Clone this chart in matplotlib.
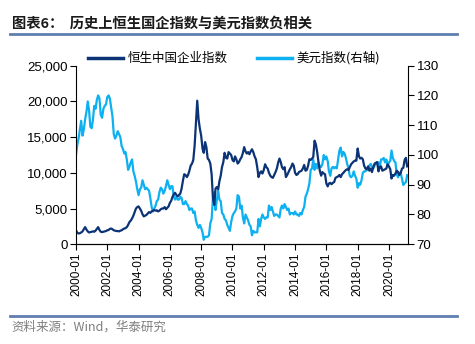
import numpy as np
import pandas as pd
import matplotlib
matplotlib.use("Agg")
import matplotlib.pyplot as plt
import matplotlib.dates as mdates
from matplotlib.ticker import FuncFormatter
from matplotlib.lines import Line2D

plt.rcParams['font.family'] = ['Liberation Sans', 'Noto Sans CJK SC', 'DejaVu Sans']

# monthly closes, 2000-01 .. 2021-03
hscei = [
    1960, 1600, 1500, 1550, 1650, 1800, 2100, 2400, 2050, 1800, 1650, 1700,   # 2000
    1750, 1800, 1750, 1900, 2150, 2400, 2000, 1750, 1700, 1750, 1800, 1850,   # 2001
    1950, 2000, 2150, 2200, 2100, 1950, 1900, 1850, 1850, 1800, 1900, 1950,   # 2002
    2100, 2200, 2250, 2400, 2700, 3100, 3300, 3600, 4000, 4500, 5000, 5200,   # 2003
    5300, 5000, 4700, 4200, 3900, 4000, 4100, 4300, 4500, 4400, 4600, 4700,   # 2004
    4800, 4700, 4750, 4600, 4700, 4900, 5000, 5000, 5200, 4900, 5100, 5300,   # 2005
    5800, 6100, 6600, 7000, 7200, 6900, 6700, 6900, 7100, 7800, 8900, 9800,   # 2006
    9700, 9400, 9700, 10300, 11000, 11300, 11800, 13800, 17000, 20100, 17500, 16200,  # 2007
    15200, 13400, 12800, 14300, 13600, 12000, 11800, 11300, 9800, 6500, 5500, 7800,  # 2008
    8000, 7700, 8800, 9600, 10800, 11500, 12800, 12100, 12000, 12900, 12700, 12500,  # 2009
    11800, 11600, 12300, 11900, 11300, 11500, 11900, 12200, 12800, 13600, 13000, 12700,  # 2010
    12900, 12600, 13000, 13300, 12900, 12300, 11900, 10800, 9400, 10000, 10200, 9900,  # 2011
    10400, 11200, 10800, 10600, 10000, 9600, 9400, 9300, 9700, 10100, 10600, 11400,  # 2012
    12000, 11500, 10800, 10500, 10800, 9400, 9700, 10100, 10500, 10800, 11300, 11000,  # 2013
    10000, 9700, 9800, 10100, 10200, 10300, 10600, 11100, 10300, 10400, 11000, 11900,  # 2014
    11800, 12000, 12200, 14500, 14000, 12900, 11500, 10300, 9600, 10100, 9900, 9800,  # 2015
    8500, 8100, 8500, 8600, 8400, 8600, 8700, 9300, 9400, 9500, 9700, 9400,   # 2016
    9800, 10000, 10200, 10400, 10500, 10400, 10800, 11200, 11400, 11600, 11700, 11700,  # 2017
    13400, 12300, 12000, 12100, 11900, 11000, 10600, 10500, 10900, 10300, 10600, 10100,  # 2018
    10800, 11300, 11400, 11500, 10200, 10800, 10900, 10300, 10400, 10500, 10600, 11200,  # 2019
    10900, 10500, 9200, 9700, 9600, 9900, 10300, 10100, 9700, 10000, 10600, 10700,  # 2020
    11800, 12100, 10900,  # 2021
]

dxy = [
    100.0, 103.5, 105.5, 108.5, 111.5, 106.5, 108.5, 112.0, 114.5, 118.0, 115.0, 109.5,  # 2000
    109.0, 112.0, 116.5, 115.5, 118.5, 120.0, 119.0, 113.5, 112.5, 115.5, 116.5, 117.0,  # 2001
    119.5, 120.0, 119.0, 116.0, 113.0, 107.0, 105.5, 106.5, 108.0, 107.0, 106.0, 103.0,  # 2002
    102.0, 100.5, 101.0, 98.5, 95.0, 96.0, 97.5, 98.5, 94.5, 93.0, 91.0, 88.5,  # 2003
    86.5, 88.5, 89.0, 91.5, 90.0, 88.5, 89.0, 88.5, 88.0, 85.5, 82.5, 81.0,  # 2004
    82.0, 83.0, 84.5, 85.0, 87.5, 89.0, 88.5, 87.0, 88.0, 89.5, 91.5, 90.0,  # 2005
    88.5, 89.5, 89.5, 86.0, 85.0, 86.0, 85.0, 85.0, 86.0, 85.5, 83.5, 83.5,  # 2006
    84.5, 83.5, 83.0, 81.5, 82.0, 82.0, 80.5, 81.0, 78.0, 76.5, 75.5, 76.5,  # 2007
    75.5, 74.0, 71.5, 72.5, 72.5, 72.5, 73.0, 77.0, 78.5, 85.5, 87.5, 81.5,  # 2008
    85.0, 88.0, 85.0, 84.5, 80.5, 80.0, 78.5, 78.0, 76.5, 75.5, 74.5, 77.5,  # 2009
    79.5, 80.5, 81.0, 82.0, 86.5, 86.0, 82.0, 83.0, 79.0, 77.0, 80.0, 79.0,  # 2010
    78.0, 76.5, 76.0, 73.0, 74.5, 74.0, 74.0, 74.0, 78.5, 76.0, 78.5, 80.0,  # 2011
    79.0, 78.5, 79.0, 79.0, 83.0, 81.5, 82.5, 81.0, 79.5, 80.0, 80.0, 79.5,  # 2012
    79.0, 82.0, 83.0, 82.0, 83.5, 82.5, 81.5, 82.0, 80.0, 80.5, 80.5, 80.0,  # 2013
    81.0, 80.0, 80.0, 79.5, 80.5, 80.0, 81.5, 82.5, 86.0, 87.0, 88.5, 90.5,  # 2014
    95.0, 95.5, 98.5, 95.0, 97.0, 95.5, 97.5, 96.0, 96.0, 97.0, 100.0, 98.5,  # 2015
    99.5, 98.0, 94.5, 93.0, 95.5, 96.0, 95.5, 96.0, 95.5, 98.5, 101.5, 102.5,  # 2016
    99.5, 101.0, 100.5, 99.0, 97.0, 95.5, 93.0, 92.5, 93.0, 94.5, 93.0, 92.0,  # 2017
    89.0, 90.5, 90.0, 91.5, 94.0, 94.5, 94.5, 95.0, 95.0, 96.5, 97.0, 96.0,  # 2018
    95.5, 96.5, 97.0, 97.5, 97.5, 96.0, 98.5, 98.5, 99.0, 97.5, 98.5, 96.5,  # 2019
    97.5, 98.0, 101.5, 99.0, 98.0, 97.5, 93.5, 92.5, 94.0, 94.0, 91.9, 89.9,  # 2020
    90.5, 90.9, 93.2,  # 2021
]

dates = pd.date_range('2000-01-01', periods=len(hscei), freq='MS')

left_ticks = [0, 5000, 10000, 15000, 20000, 25000]
right_ticks = [70, 80, 90, 100, 110, 120, 130]

dark = '#0b3375'
light = '#0db0f0'
rule = '#5f7fae'

fig = plt.figure(figsize=(4.75, 3.44), dpi=100)
ax = fig.add_axes([0.16, 0.29, 0.6996, 0.519])
ax2 = ax.twinx()

ax2.plot(dates, dxy, color=light, lw=1.6)
ax.plot(dates, hscei, color=dark, lw=1.6)
ax.set_zorder(ax2.get_zorder() + 1)
ax.patch.set_visible(False)

ax.set_ylim(0, 25000)
ax.set_yticks(left_ticks)
ax.yaxis.set_major_formatter(FuncFormatter(lambda v, p: f'{int(v):,}'))
ax2.set_ylim(70, 130)
ax2.set_yticks(right_ticks)

ax.set_xlim(pd.Timestamp('2000-01-01'), pd.Timestamp('2021-03-28'))
ax.xaxis.set_major_locator(mdates.YearLocator(2, month=1, day=1))
ax.xaxis.set_major_formatter(mdates.DateFormatter('%Y-%m'))
for lab in ax.get_xticklabels():
    lab.set_rotation(90)

for a in (ax, ax2):
    a.spines['top'].set_visible(False)
    a.tick_params(length=4, width=0.8, color='black', labelsize=9.5, pad=2)
ax.spines['right'].set_visible(False)
ax2.spines['left'].set_visible(False)
ax.tick_params(axis='x', labelsize=8.5, pad=2)

handles = [Line2D([], [], color=dark, lw=2.5), Line2D([], [], color=light, lw=2.5)]
fig.legend(handles, ['恒生中国企业指数', '美元指数(右轴)'], ncol=2, frameon=False,
           loc='center', bbox_to_anchor=(0.493, 0.831),
           prop={'family': ['Noto Sans CJK SC'], 'size': 9},
           handlelength=2.8, handletextpad=0.4, columnspacing=2.3)

fig.text(0.025, 1 - 24 / 344, '图表6：  历史上恒生国企指数与美元指数负相关',
         family=['Noto Sans CJK SC'], fontsize=10.3, fontweight='bold',
         va='center', ha='left', color='#1a1a1a')
fig.add_artist(Line2D([10 / 475, 457 / 475], [1 - 33.5 / 344] * 2, color=rule, lw=2))
fig.add_artist(Line2D([10 / 475, 457 / 475], [1 - 315.7 / 344] * 2, color=rule, lw=2))
fig.text(0.025, 1 - 327 / 344, '资料来源：Wind，华泰研究',
         family=['Noto Sans CJK SC', 'Liberation Sans'], fontsize=9,
         va='center', ha='left', color='#7f7f7f')

fig.savefig('out.png', dpi=100)
